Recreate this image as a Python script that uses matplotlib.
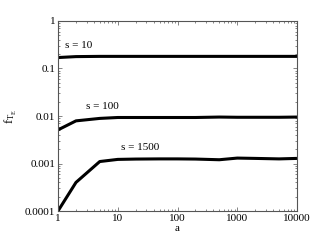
import matplotlib
matplotlib.use("Agg")
import matplotlib.pyplot as plt
from matplotlib.ticker import LogLocator, NullFormatter, FixedLocator, FixedFormatter

plt.rcParams['font.family'] = ['Liberation Serif', 'DejaVu Serif']
plt.rcParams['mathtext.fontset'] = 'custom'
plt.rcParams['mathtext.rm'] = 'Liberation Serif'
plt.rcParams['mathtext.it'] = 'Liberation Serif'

a_vals = [1, 2, 5, 10, 20, 50, 100, 200, 500, 1000, 2000, 5000, 10000]
s10 = [0.17, 0.178, 0.18, 0.18, 0.18, 0.18, 0.18, 0.18, 0.18, 0.18, 0.18, 0.18, 0.18]
s100 = [0.0051, 0.0079, 0.0089, 0.0093, 0.0093, 0.0093, 0.0093, 0.0093, 0.0095, 0.0094, 0.0094, 0.0094, 0.0095]
s1500 = [0.0001, 0.0004, 0.0011, 0.00122, 0.00124, 0.00125, 0.00125, 0.00124, 0.0012, 0.0013, 0.00128, 0.00125, 0.00128]
labels = ["s = 10", "s = 100", "s = 1500"]
label_pos = [(1.3, 0.31), (2.9, 0.0155), (11.3, 0.00213)]
xticks = [1, 10, 100, 1000, 10000]
xticklabels = ["1", "10", "100", "1000", "10000"]
yticks = [0.0001, 0.001, 0.01, 0.1, 1]
yticklabels = ["0.0001", "0.001", "0.01", "0.1", "1"]

fig = plt.figure(figsize=(3.13, 2.49), dpi=100)
ax = fig.add_axes([58/313, 1 - 211/249, 239/313, 190/249])

for ys in (s10, s100, s1500):
    ax.plot(a_vals, ys, color='black', lw=2.2, solid_capstyle='butt')

for txt, (x, y) in zip(labels, label_pos):
    ax.text(x, y, txt, fontsize=8, ha='left', va='center')

ax.set_xscale('log')
ax.set_yscale('log')
ax.set_xlim(1, 10000)
ax.set_ylim(0.0001, 1)
ax.xaxis.set_major_locator(FixedLocator(xticks))
ax.xaxis.set_major_formatter(FixedFormatter(xticklabels))
ax.yaxis.set_major_locator(FixedLocator(yticks))
ax.yaxis.set_major_formatter(FixedFormatter(yticklabels))
ax.xaxis.set_minor_locator(LogLocator(base=10, subs=range(2, 10)))
ax.yaxis.set_minor_locator(LogLocator(base=10, subs=range(2, 10)))
ax.xaxis.set_minor_formatter(NullFormatter())
ax.yaxis.set_minor_formatter(NullFormatter())
ax.tick_params(which='both', direction='in', top=True, right=True, labelsize=8, width=0.5, colors='#555555', labelcolor='black', pad=2)
ax.tick_params(which='major', length=3)
ax.tick_params(which='minor', length=1.5)
for sp in ax.spines.values():
    sp.set_linewidth(0.8)
    sp.set_color('#555555')

ax.set_xlabel('a', fontsize=8, labelpad=1)
ax.set_ylabel(r'$\mathrm{f}_{\mathrm{T}_{\mathrm{E}}}$', fontsize=9, labelpad=4)

fig.savefig('out.png', dpi=100)
